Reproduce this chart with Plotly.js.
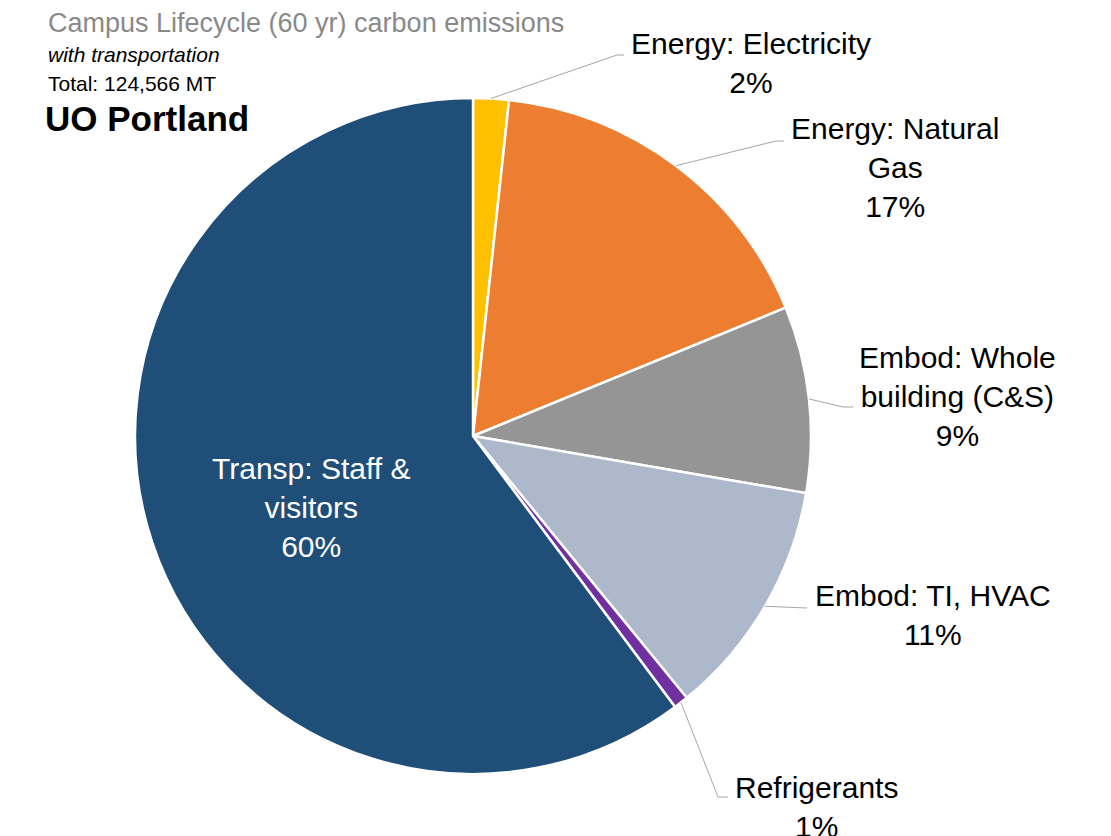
<!DOCTYPE html>
<html>
<head>
<meta charset="utf-8">
<script src="https://cdn.plot.ly/plotly-3.0.1.min.js"></script>
<style>html,body{margin:0;padding:0;background:#fff;}#chart{width:1111px;height:836px;}</style>
</head>
<body>
<div id="chart"></div>
<script>
// ---- data ----
const categories = ['Energy: Electricity', 'Energy: Natural Gas', 'Embod: Whole building (C&S)', 'Embod: TI, HVAC', 'Refrigerants', 'Transp: Staff & visitors'];
const labelText = ['Energy: Electricity', 'Energy: Natural<br>Gas', 'Embod: Whole<br>building (C&S)', 'Embod: TI, HVAC', 'Refrigerants', 'Transp: Staff &<br>visitors'];
const emissionsMT = [2120, 21300, 11090, 14200, 870, 74990];
const sliceColors = ['#FFC000', '#ED7D31', '#959595', '#ADB9CA', '#7030A0', '#1F4E79'];
const titleLines = ['Campus Lifecycle (60 yr) carbon emissions', 'with transportation', 'Total: 124,566 MT', 'UO Portland'];

// ---- layout geometry (pixels) ----
const W = 1111, H = 836;
const CX = 473, CY = 436, R = 338;
const FONT = '"Liberation Sans", Arial, sans-serif';
const labelCenters = [[751, 63], [895, 167], [957, 397], [933, 615], [816, 807], [311, 507]];
const labelColors = ['#000000', '#000000', '#000000', '#000000', '#000000', '#ffffff'];
const leaderBends = [[[617, 55], [624, 55]], [[776, 141], [784, 141]], [[843, 407], [853, 407]], [[807, 608]], [[718, 797], [728, 797]], null];

const px = x => x / W;
const py = y => 1 - y / H;

const total = emissionsMT.reduce((a, b) => a + b, 0);
const pct = emissionsMT.map(v => Math.round(v / total * 100) + '%');

const trace = {
  type: 'pie',
  labels: categories,
  values: emissionsMT,
  sort: false,
  direction: 'clockwise',
  rotation: 0,
  marker: { colors: sliceColors, line: { color: '#ffffff', width: 2.5 } },
  textinfo: 'none',
  hoverinfo: 'label+percent',
  showlegend: false,
  domain: { x: [px(CX - R), px(CX + R)], y: [py(CY + R), py(CY - R)] }
};

const annotations = [];
const shapes = [];
let cum = 0;
emissionsMT.forEach((v, i) => {
  const mid = (cum + v / 2) / total * 2 * Math.PI;
  cum += v;
  if (leaderBends[i]) {
    const hx = CX + R * Math.sin(mid), hy = CY - R * Math.cos(mid);
    let path = 'M ' + px(hx) + ' ' + py(hy);
    leaderBends[i].forEach(p => { path += ' L ' + px(p[0]) + ' ' + py(p[1]); });
    shapes.push({ type: 'path', xref: 'paper', yref: 'paper', path: path, line: { color: '#a6a6a6', width: 1 } });
  }
  annotations.push({
    xref: 'paper', yref: 'paper', x: px(labelCenters[i][0]), y: py(labelCenters[i][1]),
    xanchor: 'center', yanchor: 'middle', align: 'center', showarrow: false,
    text: labelText[i] + '<br>' + pct[i],
    font: { family: FONT, size: 30, color: labelColors[i] }
  });
});

annotations.push(
  { xref: 'paper', yref: 'paper', x: px(46), y: py(23), xanchor: 'left', yanchor: 'middle', showarrow: false,
    text: titleLines[0], font: { family: FONT, size: 27, color: '#898989' } },
  { xref: 'paper', yref: 'paper', x: px(46), y: py(54), xanchor: 'left', yanchor: 'middle', showarrow: false,
    text: '<i>' + titleLines[1] + '</i>', font: { family: FONT, size: 21, color: '#000000' } },
  { xref: 'paper', yref: 'paper', x: px(46), y: py(84), xanchor: 'left', yanchor: 'middle', showarrow: false,
    text: titleLines[2], font: { family: FONT, size: 21, color: '#000000' } },
  { xref: 'paper', yref: 'paper', x: px(43), y: py(118), xanchor: 'left', yanchor: 'middle', showarrow: false,
    text: '<b>' + titleLines[3] + '</b>', font: { family: FONT, size: 35, color: '#000000' } }
);

const layout = {
  width: W, height: H,
  margin: { l: 0, r: 0, t: 0, b: 0 },
  paper_bgcolor: '#ffffff',
  showlegend: false,
  annotations: annotations,
  shapes: shapes,
  font: { family: FONT }
};

Plotly.newPlot('chart', [trace], layout, { displayModeBar: false, staticPlot: true });
</script>
</body>
</html>
